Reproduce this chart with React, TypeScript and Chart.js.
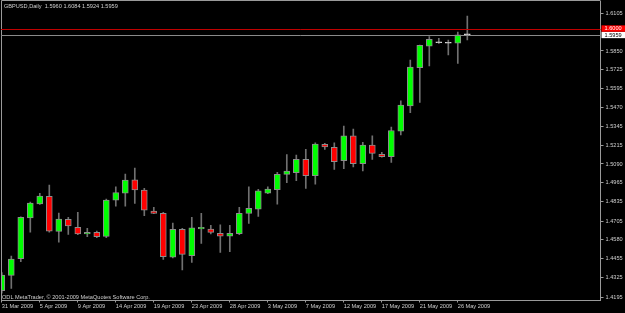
import { useEffect, useRef } from 'react';
import { Chart, registerables } from 'chart.js';

Chart.register(...registerables);

const dates = [
  '31 Mar 2009', '1 Apr 2009', '2 Apr 2009', '3 Apr 2009', '5 Apr 2009', '6 Apr 2009', '7 Apr 2009', '8 Apr 2009',
  '9 Apr 2009', '10 Apr 2009', '12 Apr 2009', '13 Apr 2009', '14 Apr 2009', '15 Apr 2009', '16 Apr 2009', '17 Apr 2009',
  '19 Apr 2009', '20 Apr 2009', '21 Apr 2009', '22 Apr 2009', '23 Apr 2009', '24 Apr 2009', '26 Apr 2009', '27 Apr 2009',
  '28 Apr 2009', '29 Apr 2009', '30 Apr 2009', '1 May 2009', '3 May 2009', '4 May 2009', '5 May 2009', '6 May 2009',
  '7 May 2009', '8 May 2009', '10 May 2009', '11 May 2009', '12 May 2009', '13 May 2009', '14 May 2009', '15 May 2009',
  '17 May 2009', '18 May 2009', '19 May 2009', '20 May 2009', '21 May 2009', '22 May 2009', '24 May 2009', '25 May 2009',
  '26 May 2009', '27 May 2009',
];

const opens = [
  1.4238, 1.4341, 1.4453, 1.4728, 1.4821, 1.4872, 1.4637, 1.4718, 1.4664, 1.4619,
  1.4630, 1.4603, 1.4847, 1.4893, 1.4984, 1.4915, 1.4773, 1.4758, 1.4464, 1.4650,
  1.4473, 1.4654, 1.4652, 1.4623, 1.4605, 1.4622, 1.4757, 1.4786, 1.4893, 1.4918,
  1.5020, 1.5032, 1.5121, 1.5011, 1.5222, 1.5202, 1.5112, 1.5280, 1.5092, 1.5217,
  1.5155, 1.5139, 1.5311, 1.5480, 1.5737, 1.5883, 1.5905, 1.5902, 1.5903, 1.5960,
];
const highs = [
  1.4359, 1.4471, 1.4735, 1.4834, 1.4893, 1.4948, 1.4760, 1.4731, 1.4765, 1.4657,
  1.4639, 1.4854, 1.4937, 1.5022, 1.5063, 1.4926, 1.4798, 1.4765, 1.4693, 1.4657,
  1.4731, 1.4758, 1.4677, 1.4681, 1.4677, 1.4799, 1.4937, 1.4919, 1.4937, 1.5034,
  1.5153, 1.5150, 1.5188, 1.5233, 1.5229, 1.5233, 1.5345, 1.5325, 1.5235, 1.5280,
  1.5168, 1.5338, 1.5515, 1.5789, 1.5890, 1.5946, 1.5935, 1.5923, 1.5977, 1.6084,
];
const lows = [
  1.4222, 1.4254, 1.4433, 1.4632, 1.4818, 1.4632, 1.4565, 1.4617, 1.4615, 1.4601,
  1.4594, 1.4594, 1.4807, 1.4807, 1.4825, 1.4742, 1.4756, 1.4449, 1.4459, 1.4377,
  1.4428, 1.4556, 1.4619, 1.4496, 1.4500, 1.4614, 1.4691, 1.4738, 1.4891, 1.4819,
  1.4965, 1.4977, 1.4926, 1.4955, 1.5188, 1.5054, 1.5058, 1.5071, 1.5044, 1.5121,
  1.5135, 1.5101, 1.5285, 1.5435, 1.5504, 1.5749, 1.5901, 1.5823, 1.5767, 1.5924,
];
const closes = [
  1.4343, 1.4451, 1.4731, 1.4827, 1.4874, 1.4639, 1.4720, 1.4673, 1.4619, 1.4630,
  1.4601, 1.4847, 1.4897, 1.4982, 1.4915, 1.4780, 1.4758, 1.4466, 1.4650, 1.4482,
  1.4661, 1.4664, 1.4630, 1.4605, 1.4623, 1.4758, 1.4792, 1.4909, 1.4921, 1.5020,
  1.5042, 1.5121, 1.5011, 1.5224, 1.5204, 1.5105, 1.5280, 1.5092, 1.5217, 1.5161,
  1.5139, 1.5315, 1.5486, 1.5742, 1.5888, 1.5928, 1.5905, 1.5902, 1.5959, 1.5959,
];

const priceTicks = [
  1.6105, 1.5850, 1.5725, 1.5595, 1.5470, 1.5345, 1.5215, 1.5090,
  1.4965, 1.4835, 1.4705, 1.4580, 1.4455, 1.4325, 1.4195,
];
const dateTickStep = 4;

const symbolTitle = 'GBPUSD,Daily';
const currentOHLC = [1.5960, 1.6084, 1.5924, 1.5959];
const askPrice = 1.6000;
const bidPrice = 1.5959;
const copyrightText = 'ODL MetaTrader, \u00A9 2001-2009 MetaQuotes Software Corp.';

const priceMin = 1.4172;
const priceMax = 1.6186;
const barMin = -0.084;
const barMax = 63.02;

const FONT = 'Liberation Sans, Arial, sans-serif';
const FS = 5.6;
const TEXT = '#cfcfcf';
const AXIS = '#9a9a9a';

const mtPlugin = {
  id: 'mtDecor',
  beforeDraw(chart: any) {
    const { ctx, width, height } = chart;
    ctx.save();
    ctx.fillStyle = '#000000';
    ctx.fillRect(0, 0, width, height);
    ctx.restore();
  },
  afterDatasetsDraw(chart: any) {
    const { ctx, chartArea: a, scales } = chart;
    const y = scales.y;
    ctx.save();
    ctx.lineWidth = 1;
    // frame (top / left)
    ctx.strokeStyle = AXIS;
    ctx.beginPath();
    ctx.moveTo(a.left + 0.5, a.top - 0.5);
    ctx.lineTo(a.right, a.top - 0.5);
    ctx.moveTo(a.left + 0.5, a.top - 0.5);
    ctx.lineTo(a.left + 0.5, a.bottom);
    ctx.stroke();
    // price lines
    const ya = Math.round(y.getPixelForValue(askPrice)) + 0.5;
    const yb = Math.round(y.getPixelForValue(bidPrice)) + 0.5;
    ctx.strokeStyle = '#c00000';
    ctx.beginPath();
    ctx.moveTo(a.left, ya);
    ctx.lineTo(a.right, ya);
    ctx.stroke();
    ctx.strokeStyle = '#8a8a8a';
    ctx.beginPath();
    ctx.moveTo(a.left, yb);
    ctx.lineTo(a.right, yb);
    ctx.stroke();
    // texts
    ctx.font = `${FS}px ${FONT}`;
    ctx.fillStyle = TEXT;
    ctx.textBaseline = 'middle';
    ctx.textAlign = 'left';
    ctx.fillText(`${symbolTitle}  ${currentOHLC.map((v) => v.toFixed(4)).join(' ')}`, 4, 6);
    ctx.fillText(copyrightText, 2, a.bottom - 3.5);
    ctx.restore();
  },
  afterDraw(chart: any) {
    const { ctx, chartArea: a, scales, width } = chart;
    const y = scales.y;
    const ya = y.getPixelForValue(askPrice);
    const yb = y.getPixelForValue(bidPrice);
    ctx.save();
    ctx.font = `${FS}px ${FONT}`;
    ctx.textBaseline = 'middle';
    ctx.textAlign = 'left';
    // bid box
    ctx.fillStyle = '#ffffff';
    ctx.fillRect(a.right + 1, yb - 3, width - a.right - 1, 6.4);
    ctx.fillStyle = '#000000';
    ctx.fillText(bidPrice.toFixed(4), a.right + 4, yb + 0.3);
    // ask box
    ctx.fillStyle = '#ff0000';
    ctx.fillRect(a.right + 1, ya - 3.3, width - a.right - 1, 6.4);
    ctx.fillStyle = '#ffffff';
    ctx.fillText(askPrice.toFixed(4), a.right + 4, ya);
    ctx.restore();
  },
};

export default function App() {
  const ref = useRef<HTMLCanvasElement | null>(null);

  useEffect(() => {
    const canvas = ref.current;
    if (!canvas) return;

    const bodies = opens.map((o, i) => ({ x: i, y: [o, closes[i]] }));
    const wicks = lows.map((l, i) => ({ x: i, y: [l, highs[i]] }));
    const bodyColors = opens.map((o, i) => {
      const c = closes[i];
      if (Math.abs(c - o) < 0.00015) return '#d8d8d8';
      return c > o ? '#00ff00' : '#ff0000';
    });
    const bodyBorders = opens.map((o, i) =>
      Math.abs(closes[i] - o) < 0.00015 ? '#d8d8d8' : '#8c8c8c'
    );

    const chart = new Chart(canvas, {
      type: 'bar',
      data: {
        datasets: [
          {
            data: bodies as any,
            backgroundColor: bodyColors,
            borderColor: bodyBorders,
            borderWidth: 1,
            borderSkipped: false,
            barThickness: 6,
            minBarLength: 1,
            grouped: false,
            order: 0,
          } as any,
          {
            data: wicks as any,
            backgroundColor: '#707070',
            borderWidth: 0,
            barThickness: 1,
            grouped: false,
            order: 1,
          } as any,
        ],
      },
      options: {
        responsive: false,
        animation: false,
        events: [],
        layout: { padding: { left: 1, top: 1, right: 0, bottom: 0 } },
        plugins: {
          legend: { display: false },
          tooltip: { enabled: false },
        },
        scales: {
          x: {
            type: 'linear',
            min: barMin,
            max: barMax,
            offset: false,
            position: 'bottom',
            grid: {
              offset: false,
              drawOnChartArea: false,
              drawTicks: true,
              tickLength: 2,
              color: AXIS,
            },
            border: { display: true, color: AXIS, width: 1 },
            afterBuildTicks: (scale: any) => {
              const t: any[] = [];
              for (let i = 0; i < dates.length; i += dateTickStep) t.push({ value: i });
              scale.ticks = t;
            },
            afterFit: (scale: any) => {
              scale.height = 12.5;
              scale.paddingLeft = 0;
              scale.paddingRight = 0;
              scale.paddingTop = 0;
              scale.paddingBottom = 0;
            },
            ticks: {
              autoSkip: false,
              maxRotation: 0,
              align: 'start',
              padding: 1,
              color: TEXT,
              font: { family: FONT, size: FS },
              callback: (v: any) => dates[Math.round(Number(v))] ?? '',
            },
          },
          y: {
            type: 'linear',
            position: 'right',
            min: priceMin,
            max: priceMax,
            grid: {
              drawOnChartArea: false,
              drawTicks: true,
              tickLength: 3,
              color: AXIS,
            },
            border: { display: true, color: AXIS, width: 1 },
            afterBuildTicks: (scale: any) => {
              scale.ticks = priceTicks.map((v) => ({ value: v }));
            },
            afterFit: (scale: any) => {
              scale.width = 24.5;
              scale.paddingLeft = 0;
              scale.paddingRight = 0;
              scale.paddingTop = 0;
              scale.paddingBottom = 0;
            },
            ticks: {
              autoSkip: false,
              padding: 2,
              color: TEXT,
              font: { family: FONT, size: FS },
              callback: (v: any) => Number(v).toFixed(4),
            },
          },
        },
      } as any,
      plugins: [mtPlugin],
    });

    return () => chart.destroy();
  }, []);

  return (
    <div style={{ position: 'absolute', left: 0, top: 0, width: 625, height: 313, background: '#000' }}>
      <canvas ref={ref} width={625} height={313} style={{ display: 'block', width: 625, height: 313 }} />
    </div>
  );
}
